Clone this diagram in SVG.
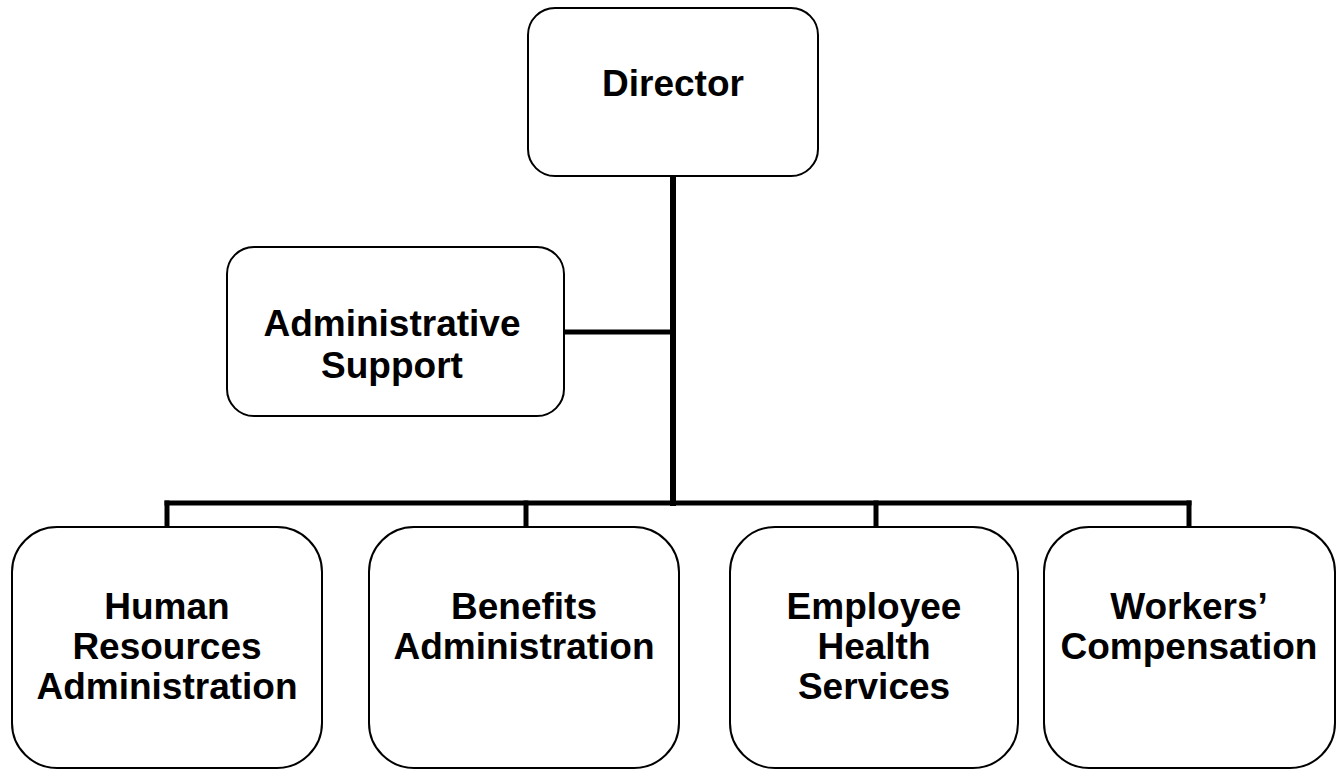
<svg xmlns="http://www.w3.org/2000/svg" width="1344" height="772" viewBox="0 0 1344 772">
<style>
.box{fill:#fff;stroke:#000;stroke-width:2}
.t{font-family:"Liberation Sans",Arial,sans-serif;font-weight:bold;font-size:37px;fill:#000;text-anchor:middle}
.c{stroke:#000;fill:none;stroke-linecap:square}
</style>
<rect width="1344" height="772" fill="#fff"/>
<g id="connectors">
<line class="c" x1="673" y1="176" x2="673" y2="503" stroke-width="6"/>
<line class="c" x1="564" y1="332" x2="673" y2="332" stroke-width="5"/>
<line class="c" x1="167" y1="503" x2="1189" y2="503" stroke-width="5"/>
<line class="c" x1="167" y1="503" x2="167" y2="527" stroke-width="5"/>
<line class="c" x1="526" y1="503" x2="526" y2="527" stroke-width="5"/>
<line class="c" x1="876" y1="503" x2="876" y2="527" stroke-width="5"/>
<line class="c" x1="1189" y1="503" x2="1189" y2="527" stroke-width="5"/>
</g>
<g id="director">
<rect class="box" x="528" y="8" width="290" height="168" rx="27"/>
<text class="t" x="673" y="96">Director</text>
</g>
<g id="admin-support">
<rect class="box" x="227" y="247" width="337" height="169" rx="27"/>
<text class="t" x="392" y="336">Administrative</text>
<text class="t" x="392" y="378">Support</text>
</g>
<g id="hr-admin">
<rect class="box" x="12" y="527" width="310" height="241" rx="45"/>
<text class="t" x="167" y="619">Human</text>
<text class="t" x="167" y="659">Resources</text>
<text class="t" x="167" y="699">Administration</text>
</g>
<g id="benefits">
<rect class="box" x="369" y="527" width="310" height="241" rx="45"/>
<text class="t" x="524" y="619">Benefits</text>
<text class="t" x="524" y="659">Administration</text>
</g>
<g id="employee-health">
<rect class="box" x="730" y="527" width="288" height="241" rx="45"/>
<text class="t" x="874" y="619">Employee</text>
<text class="t" x="874" y="659">Health</text>
<text class="t" x="874" y="699">Services</text>
</g>
<g id="workers-comp">
<rect class="box" x="1044" y="527" width="291" height="241" rx="45"/>
<text class="t" x="1189" y="619">Workers’</text>
<text class="t" x="1189" y="659">Compensation</text>
</g>
</svg>
